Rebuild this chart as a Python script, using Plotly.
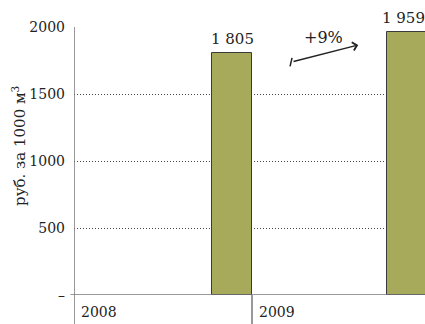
import plotly.graph_objects as go

# data
years = ["2008", "2009"]
prices = [1805, 1959]
price_labels = ["1 805", "1 959"]
y_ticks = [0, 500, 1000, 1500, 2000]
y_tick_text = ["–", "500", "1000", "1500", "2000"]
growth_label = "+9%"

BAR_COLOR = "#a7a95b"
FONT = "DejaVu Serif, Liberation Serif, serif"
INK = "#222"

# each year occupies one unit on x; bar sits at the right end of its year
bar_x = [0.888, 1.871]

fig = go.Figure()
fig.add_trace(go.Bar(
    x=bar_x, y=prices, width=0.225,
    marker=dict(color=BAR_COLOR, line=dict(color="#3a3a3a", width=1)),
    cliponaxis=True, hoverinfo="skip",
))

# value labels above bars (last one nudged left so it stays inside the page)
for i, (bx, v, lab) in enumerate(zip(bar_x, prices, price_labels)):
    fig.add_annotation(x=bx, y=v, text=lab, showarrow=False, yanchor="bottom",
                       yshift=3, xshift=-4 if i == len(prices) - 1 else 0,
                       font=dict(family=FONT, size=15, color=INK))

# year labels below axis, left aligned after separator
for i, yr in enumerate(years):
    fig.add_annotation(x=i, y=0, text=yr, showarrow=False, xanchor="left",
                       yanchor="top", xshift=5, yshift=-7,
                       font=dict(family=FONT, size=14, color=INK))

# left axis and year separator extending below the plot
fig.add_shape(type="line", xref="x", yref="paper", x0=0, x1=0, y0=-0.11, y1=1,
              line=dict(color="#777", width=1.5))
fig.add_shape(type="line", xref="x", yref="paper", x0=1, x1=1, y0=-0.11, y1=0,
              line=dict(color="#777", width=1.5))

# growth arrow
fig.add_annotation(x=1.597, y=1866, ax=1.225, ay=1739, xref="x", yref="y",
                   axref="x", ayref="y", text="", showarrow=True,
                   arrowhead=4, arrowsize=1.1, arrowwidth=1.5, arrowcolor=INK)
fig.add_shape(type="line", xref="x", yref="y", x0=1.214, x1=1.225, y0=1706, y1=1769,
              line=dict(color=INK, width=1.5))
fig.add_annotation(x=1.399, y=1925, text=growth_label, showarrow=False,
                   font=dict(family=FONT, size=16, color=INK))

# y axis title
fig.add_annotation(xref="paper", yref="paper", x=-0.157, y=0.556,
                   xanchor="center", yanchor="middle",
                   text="руб. за 1000 м<sup>3</sup>", textangle=-90, showarrow=False,
                   font=dict(family=FONT, size=15, color=INK))

fig.update_xaxes(range=[0, 1.972], showgrid=False, showticklabels=False,
                 zeroline=False, showline=False, fixedrange=True)
fig.update_yaxes(range=[0, 2000], tickvals=y_ticks, ticktext=y_tick_text,
                 showgrid=True, gridcolor="#444", griddash="1px,2px", gridwidth=1,
                 zeroline=False, showline=False, ticks="", ticklabelstandoff=8,
                 tickfont=dict(family=FONT, size=14, color=INK))
# zero baseline across
fig.add_shape(type="line", xref="paper", yref="y", x0=-0.01, x1=1, y0=0, y1=0,
              line=dict(color="#777", width=1.5))

fig.update_layout(
    width=425, height=324,
    margin=dict(l=74, r=0, t=27, b=29),
    plot_bgcolor="white", paper_bgcolor="white",
    showlegend=False, bargap=0,
)

fig.write_html("out.html", config={"displayModeBar": False},
               post_script="document.body.style.margin='0';")
